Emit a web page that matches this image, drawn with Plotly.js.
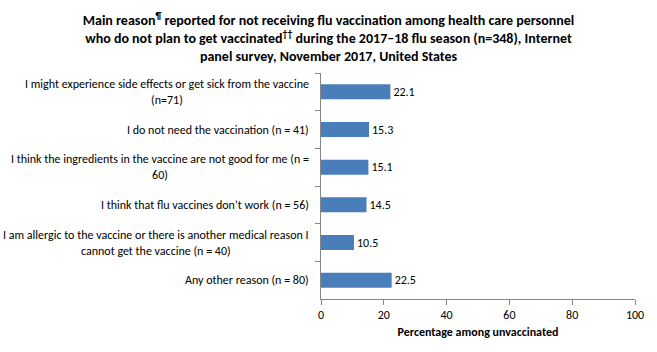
<!DOCTYPE html>
<html>
<head>
<meta charset="utf-8">
<script src="https://cdn.plot.ly/plotly-3.0.1.min.js"></script>
<style>html,body{margin:0;padding:0;background:#fff;}#chart{width:657px;height:352px;}</style>
</head>
<body>
<div id="chart"></div>
<script>
const categories = [
  "I might experience side effects or get sick from the vaccine<br>(n=71)",
  "I do not need the vaccination (n = 41)",
  "I think the ingredients in the vaccine are not good for me (n =<br>60)",
  "I think that flu vaccines don\u2019t work (n = 56)",
  "I am allergic to the vaccine or there is another medical reason I<br>cannot get the vaccine (n = 40)",
  "Any other reason (n = 80)"
];
const values = [22.1, 15.3, 15.1, 14.5, 10.5, 22.5];
const xTicks = [0, 20, 40, 60, 80, 100];

const FONT = "Carlito, Calibri, Lato, 'Open Sans', sans-serif";

const trace = {
  type: 'bar',
  orientation: 'h',
  x: values,
  y: categories,
  marker: {color: '#4a7ebb'},
  text: values.map(v => v.toFixed(1)),
  textposition: 'outside',
  textfont: {family: FONT, size: 12, color: '#000'},
  cliponaxis: false,
  hoverinfo: 'none'
};

const annotations = categories.map(c => ({
  xref: 'paper', yref: 'y', x: 0, y: c,
  xanchor: 'right', yanchor: 'middle', xshift: -10,
  text: c, align: 'center', showarrow: false,
  font: {family: FONT, size: 12, color: '#000'}
}));

const layout = {
  width: 657, height: 352,
  margin: {l: 321, r: 22, t: 73, b: 53, pad: 0},
  paper_bgcolor: '#fff', plot_bgcolor: '#fff',
  showlegend: false,
  bargap: 0.6,
  title: {
    text: "Main reason<sup>\u00b6</sup> reported for not receiving flu vaccination among health care personnel<br>who do not plan to get vaccinated<sup>\u2020\u2020</sup> during the 2017\u201318 flu season (n=348), Internet<br>panel survey, November 2017, United States",
    font: {family: FONT, size: 14, color: '#000', weight: 'bold'},
    x: 0.5, xanchor: 'center', yref: 'container', y: 0.93, yanchor: 'middle'
  },
  xaxis: {
    range: [0, 100], tickvals: xTicks, ticktext: xTicks.map(String),
    showgrid: false, zeroline: false,
    showline: true, linecolor: '#868686', linewidth: 1,
    ticks: 'outside', ticklen: 5, tickcolor: '#868686',
    tickfont: {family: FONT, size: 12, color: '#000'},
    title: {text: 'Percentage among unvaccinated', standoff: 6,
            font: {family: FONT, size: 12, color: '#000', weight: 'bold'}},
    fixedrange: true
  },
  yaxis: {
    type: 'category', autorange: 'reversed',
    showticklabels: false,
    showgrid: false, zeroline: false,
    showline: true, linecolor: '#868686', linewidth: 1,
    ticks: 'outside', ticklen: 5, tickcolor: '#868686', tickson: 'boundaries',
    fixedrange: true
  },
  annotations: annotations
};

Plotly.newPlot('chart', [trace], layout, {displayModeBar: false, staticPlot: true});
</script>
</body>
</html>
